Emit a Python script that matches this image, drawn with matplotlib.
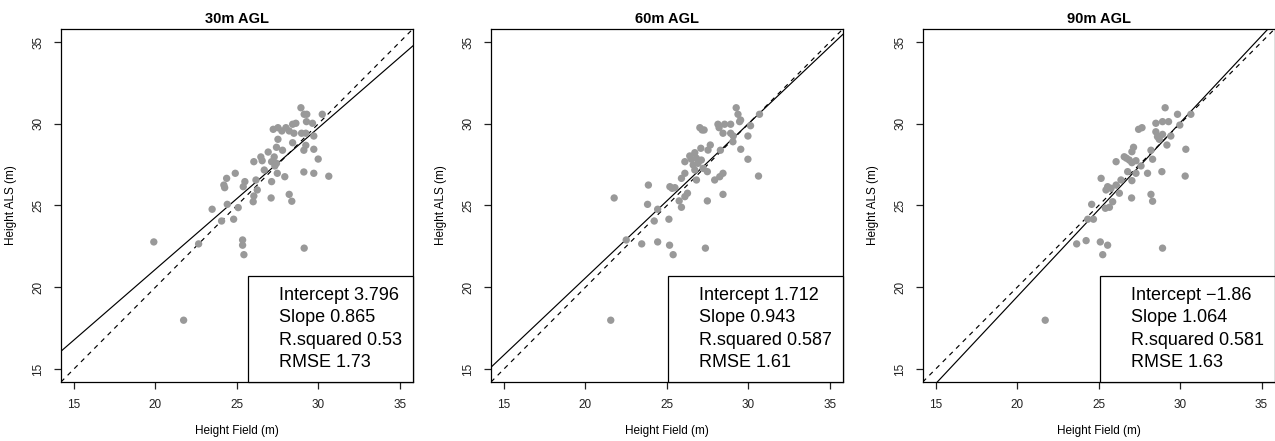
import matplotlib
matplotlib.use("Agg")
import matplotlib.pyplot as plt
from matplotlib.lines import Line2D

plt.rcParams['font.family'] = ['Liberation Sans', 'DejaVu Sans']

titles = ["30m AGL", "60m AGL", "90m AGL"]

# field height (x) and ALS height (y) for each flight altitude
x30 = [28.93, 30.24, 29.13, 29.29, 29.27, 29.64, 28.42, 28.62, 27.23, 27.52, 27.76, 28.01,
       28.21, 28.50, 28.97, 29.23, 29.72, 27.52, 28.42, 29.23, 27.43, 27.80, 29.11, 29.72,
       26.92, 26.47, 27.29, 26.04, 26.55, 27.13, 27.43, 27.33, 29.99, 26.68, 27.48, 27.94,
       24.90, 24.37, 24.20, 24.25, 25.49, 25.39, 26.17, 26.25, 26.04, 26.00, 27.13, 27.10,
       28.21, 28.37, 29.11, 29.72, 30.64, 24.41, 23.48, 25.08, 24.06, 24.80, 19.90, 22.65,
       25.35, 25.35, 25.43, 29.13, 21.73]
y30 = [30.98, 30.58, 30.58, 30.58, 30.13, 30.03, 29.97, 30.03, 29.66, 29.76, 29.56, 29.76,
       29.56, 29.42, 29.42, 29.42, 29.25, 29.05, 28.84, 28.68, 28.56, 28.38, 28.38, 28.44,
       28.27, 27.97, 27.97, 27.68, 27.74, 27.68, 27.58, 27.42, 27.84, 27.17, 26.97, 26.76,
       26.97, 26.66, 26.25, 26.09, 26.46, 26.15, 26.56, 25.95, 25.58, 25.23, 26.46, 25.46,
       25.68, 25.26, 27.05, 26.97, 26.79, 25.07, 24.77, 24.87, 24.05, 24.16, 22.77, 22.65,
       22.89, 22.57, 21.99, 22.39, 17.98]

x60 = [29.25, 29.36, 29.52, 29.46, 30.68, 28.13, 28.54, 28.91, 28.20, 27.02, 27.16, 27.28,
       30.13, 28.44, 28.91, 29.07, 29.97, 29.05, 27.66, 27.52, 27.08, 26.71, 26.40, 26.10,
       28.28, 29.53, 29.97, 26.50, 26.81, 27.11, 26.61, 26.91, 27.22, 27.48, 26.71, 26.81,
       28.44, 28.24, 27.93, 26.10, 25.89, 30.62, 23.86, 25.18, 25.32, 25.49, 26.26, 26.10,
       25.75, 25.89, 27.48, 28.44, 21.76, 23.81, 24.43, 24.22, 25.12, 22.50, 23.45, 24.43,
       25.16, 25.38, 27.36, 21.55]
y60 = [30.98, 30.58, 30.23, 30.13, 30.58, 29.97, 29.97, 29.97, 29.76, 29.76, 29.62, 29.62,
       29.88, 29.42, 29.42, 29.25, 29.25, 28.90, 28.70, 28.39, 28.50, 28.23, 28.03, 27.68,
       28.38, 28.44, 27.83, 27.83, 27.89, 27.78, 27.48, 27.58, 27.27, 27.07, 27.17, 26.56,
       26.97, 26.76, 26.56, 26.97, 26.66, 26.80, 26.25, 26.15, 26.05, 26.09, 25.75, 25.54,
       25.28, 24.89, 25.28, 25.68, 25.46, 25.07, 24.77, 24.05, 24.16, 22.89, 22.65, 22.77,
       22.57, 21.99, 22.39, 17.98]

x90 = [29.08, 29.84, 30.66, 28.51, 28.92, 29.29, 27.45, 27.66, 29.98, 28.51, 28.92, 29.43,
       28.61, 28.72, 29.19, 30.35, 28.21, 28.31, 27.14, 27.04, 26.57, 26.71, 26.88, 27.04,
       26.07, 27.29, 27.60, 26.78, 27.29, 28.00, 28.88, 30.31, 25.15, 26.37, 27.04, 26.07,
       25.55, 25.76, 25.45, 26.27, 25.86, 25.66, 27.02, 28.21, 28.31, 24.57, 24.33, 24.68,
       25.41, 23.65, 24.23, 25.10, 25.55, 25.25, 28.92, 21.72]
y90 = [30.98, 30.58, 30.58, 30.03, 30.13, 30.13, 29.66, 29.76, 29.92, 29.51, 29.35, 29.25,
       29.21, 29.05, 28.70, 28.44, 28.38, 27.83, 28.56, 28.29, 27.98, 27.89, 27.78, 27.62,
       27.68, 27.74, 27.42, 27.07, 26.97, 26.97, 27.07, 26.80, 26.66, 26.56, 26.52, 26.25,
       26.15, 26.05, 25.95, 25.75, 25.23, 24.89, 25.46, 25.68, 25.26, 25.07, 24.16, 24.16,
       24.83, 22.65, 22.85, 22.77, 22.57, 21.99, 22.39, 17.98]

intercepts = [3.796, 1.712, -1.86]
slopes = [0.865, 0.943, 1.064]
r_squared = [0.53, 0.587, 0.581]
rmse = [1.73, 1.61, 1.63]

ticks = [15, 20, 25, 30, 35]

xs = [x30, x60, x90]
ys = [y30, y60, y90]

fig = plt.figure(figsize=(12.75, 4.41), dpi=100)
lefts = [0.0478, 0.3851, 0.7237]

for i in range(3):
    ax = fig.add_axes([lefts[i], 0.1338, 0.276, 0.8005])
    ax.scatter(xs[i], ys[i], s=28, color='#999999', edgecolors='none', zorder=3)
    ax.axline((0, intercepts[i]), slope=slopes[i], color='black', lw=0.85, zorder=2)
    ax.axline((0, 0), slope=1, color='black', lw=0.85, ls=(0, (4, 4)), zorder=2)
    ax.set_xlim(14.2, 35.8)
    ax.set_ylim(14.2, 35.8)
    ax.set_xticks(ticks)
    ax.set_yticks(ticks)
    ax.set_yticklabels([str(t) for t in ticks], rotation=90, va='center')
    ax.tick_params(labelsize=8.5, length=5, width=0.9, pad=7, colors='#222222')
    for sp in ax.spines.values():
        sp.set_linewidth(0.9)
    ax.set_title(titles[i], fontsize=10.5, fontweight='bold', pad=4)
    ax.set_xlabel("Height Field (m)", fontsize=8.5, labelpad=10)
    ax.set_ylabel("Height ALS (m)", fontsize=8.5, labelpad=11)

    labels = ["Intercept %s" % str(intercepts[i]).replace('-', '\u2212'),
              "Slope %s" % slopes[i],
              "R.squared %s" % r_squared[i],
              "RMSE %s" % rmse[i]]
    handles = [Line2D([], [], ls='none') for _ in labels]
    leg = ax.legend(handles, labels, loc='lower right', borderaxespad=0,
                    fancybox=False, edgecolor='black', framealpha=1,
                    handlelength=1.1, handletextpad=0.0, borderpad=0.6,
                    labelspacing=0.3, fontsize=13)
    leg.get_frame().set_linewidth(0.9)
    leg.set_zorder(5)

fig.savefig("out.png", dpi=100)
